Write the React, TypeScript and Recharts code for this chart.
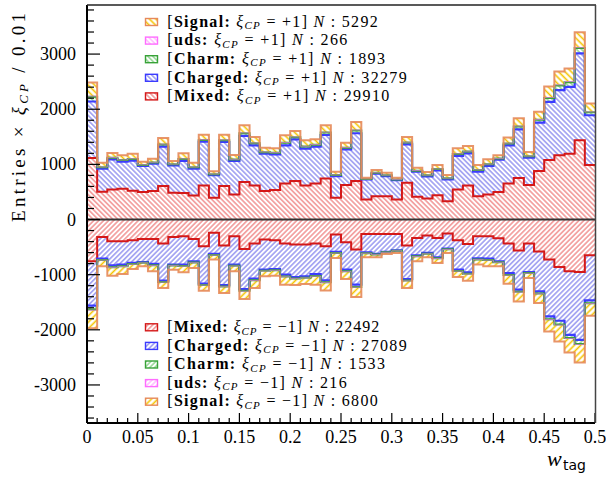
import React from "react";
import { ComposedChart, Area, XAxis, YAxis, ReferenceLine } from "recharts";

// 50 bins of width 0.01 in w_tag, values are Entries x xi_CP per bin
const binLow = Array.from({ length: 50 }, (_, i) => i / 100);

// xi_CP = +1
const mixedPos = [
  1115, 503, 545, 558, 521, 497, 515, 606, 485, 479, 436, 618, 394, 606, 455, 679, 618, 515, 533, 655,
  697, 618, 655, 745, 394, 624, 697, 364, 424, 424, 364, 667, 412, 382, 442, 333, 545, 618, 424, 455,
  497, 655, 752, 624, 879, 1079, 1164, 1194, 1436, 988,
];
const chargedPos = [
  1025, 418, 546, 490, 546, 473, 497, 715, 497, 582, 485, 794, 412, 800, 606, 836, 727, 679, 649, 690,
  758, 667, 666, 788, 393, 649, 867, 363, 406, 364, 351, 697, 455, 400, 449, 394, 607, 582, 443, 515,
  588, 690, 884, 497, 879, 1054, 1181, 1212, 1576, 903,
];
const charmPos = [
  86, 27, 29, 29, 32, 20, 23, 40, 20, 35, 27, 32, 17, 33, 27, 49, 38, 27, 27, 46,
  38, 38, 34, 44, 20, 30, 52, 8, 17, 15, 11, 33, 18, 20, 24, 20, 35, 33, 30, 30,
  20, 35, 50, 26, 49, 70, 85, 83, 96, 53,
];
const udsPos = [
  12, 4, 4, 4, 4, 3, 3, 6, 3, 5, 4, 4, 2, 5, 4, 7, 5, 4, 4, 6,
  5, 5, 5, 6, 3, 4, 7, 1, 2, 2, 2, 5, 3, 3, 3, 3, 5, 5, 4, 4,
  3, 5, 7, 4, 7, 10, 12, 12, 13, 7,
];
const signalPos = [
  247, 78, 82, 83, 91, 55, 65, 112, 56, 99, 78, 91, 48, 95, 78, 138, 109, 78, 78, 130,
  108, 108, 95, 126, 55, 87, 147, 21, 48, 43, 30, 95, 51, 56, 70, 56, 99, 95, 87, 87,
  56, 100, 143, 73, 138, 199, 243, 238, 273, 152,
];

// xi_CP = -1
const mixedNeg = [
  -758, -315, -394, -394, -376, -352, -352, -436, -315, -303, -352, -485, -242, -473, -303, -533, -436, -364, -376, -436,
  -455, -455, -436, -485, -273, -412, -545, -261, -261, -261, -261, -473, -333, -291, -333, -255, -376, -442, -303, -303,
  -339, -436, -564, -436, -582, -727, -861, -939, -952, -648,
];
const chargedNeg = [
  -802, -394, -436, -424, -412, -418, -454, -673, -503, -515, -406, -679, -382, -715, -515, -728, -637, -545, -521, -564,
  -587, -575, -552, -618, -312, -497, -637, -333, -363, -327, -297, -606, -315, -315, -352, -272, -533, -516, -400, -406,
  -419, -534, -709, -516, -721, -1031, -975, -1152, -1230, -819,
];
const charmNeg = [
  -74, -25, -34, -31, -20, -14, -24, -24, -16, -25, -22, -23, -19, -26, -22, -33, -30, -22, -22, -33,
  -26, -25, -35, -33, -21, -31, -40, -16, -11, -6, -9, -29, -20, -14, -19, -14, -24, -27, -21, -25,
  -16, -35, -38, -20, -38, -49, -68, -58, -74, -50,
];
const udsNeg = [
  -10, -3, -5, -4, -3, -2, -3, -3, -2, -4, -3, -3, -3, -4, -3, -5, -4, -3, -3, -5,
  -4, -4, -5, -5, -3, -4, -6, -2, -2, -1, -1, -4, -3, -2, -3, -2, -3, -4, -3, -3,
  -2, -5, -5, -3, -5, -7, -9, -8, -10, -7,
];
const signalNeg = [
  -326, -111, -149, -135, -86, -62, -106, -106, -73, -111, -96, -101, -81, -115, -96, -143, -135, -96, -96, -144,
  -116, -111, -154, -144, -91, -135, -178, -73, -48, -29, -38, -130, -87, -63, -81, -63, -106, -120, -91, -111,
  -72, -154, -169, -86, -169, -216, -299, -255, -328, -221,
];

const xTicks = Array.from({ length: 51 }, (_, i) => i / 100);
const yTicks = Array.from({ length: 38 }, (_, i) => -3600 + i * 200);

const legendPos = [
  { key: "signal", label: "Signal", n: 5292 },
  { key: "uds", label: "uds", n: 266 },
  { key: "charm", label: "Charm", n: 1893 },
  { key: "charged", label: "Charged", n: 32279 },
  { key: "mixed", label: "Mixed", n: 29910 },
];
const legendNeg = [
  { key: "mixed", label: "Mixed", n: 22492 },
  { key: "charged", label: "Charged", n: 27089 },
  { key: "charm", label: "Charm", n: 1533 },
  { key: "uds", label: "uds", n: 216 },
  { key: "signal", label: "Signal", n: 6800 },
];

const SERIF = "Liberation Serif, Times New Roman, serif";
const SANS = "DejaVu Sans, sans-serif";

const styles: Record<string, { line: string; hatch: string; width: number; hatchW: number; gap: number; op: number }> = {
  mixed: { line: "#d41818", hatch: "#e84a4a", width: 2, hatchW: 0.9, gap: 3.5, op: 1 },
  charged: { line: "#3b3bff", hatch: "#5252e6", width: 2.2, hatchW: 0.9, gap: 3.5, op: 1 },
  charm: { line: "#38a238", hatch: "#4cbb4c", width: 2, hatchW: 0.9, gap: 3.5, op: 1 },
  uds: { line: "#ff6cff", hatch: "#ff8cff", width: 1, hatchW: 0.9, gap: 3.5, op: 0.6 },
  signal: { line: "#e6895a", hatch: "#f5c400", width: 2, hatchW: 1.6, gap: 4.5, op: 0.9 },
};
const order = ["mixed", "charged", "charm", "uds", "signal"];

const rows = xTicks.map((x, i) => {
  const k = Math.min(i, binLow.length - 1);
  return {
    x,
    mixedP: mixedPos[k],
    chargedP: chargedPos[k],
    charmP: charmPos[k],
    udsP: udsPos[k],
    signalP: signalPos[k],
    mixedN: mixedNeg[k],
    chargedN: chargedNeg[k],
    charmN: charmNeg[k],
    udsN: udsNeg[k],
    signalN: signalNeg[k],
  };
});

function XTick(props: any) {
  const { x, y, payload } = props;
  const k = Math.round(payload.value * 100);
  const major = k % 5 === 0;
  return (
    <g>
      <line x1={x} x2={x} y1={y} y2={y - (major ? 10 : 5)} stroke="#000" strokeWidth={1.2} />
      {major && (
        <text x={x} y={y + 20} textAnchor="middle" fontFamily={SERIF} fontSize={18} fill="#000">
          {String(k / 100)}
        </text>
      )}
    </g>
  );
}

function YTick(props: any) {
  const { x, y, payload } = props;
  const v = Math.round(payload.value);
  const major = v % 1000 === 0;
  return (
    <g>
      <line x1={x} x2={x + (major ? 13 : 7)} y1={y} y2={y} stroke="#000" strokeWidth={1.2} />
      {major && (
        <text x={x - 11} y={y + 6} textAnchor="end" fontFamily={SERIF} fontSize={18} fill="#000">
          {String(v)}
        </text>
      )}
    </g>
  );
}

function LegendBlock({ items, top, sign, side }: { items: typeof legendPos; top: number; sign: string; side: string }) {
  const ends: Record<string, number> =
    side === "P"
      ? { signal: 377.7, uds: 347.3, charm: 385, charged: 406.7, mixed: 389.3 }
      : { mixed: 379.3, charged: 406.7, charm: 385, uds: 346.7, signal: 377.7 };
  return (
    <g>
      {items.map((it, i) => {
        const cy = top + i * 18.6;
        const st = styles[it.key];
        return (
          <g key={it.key}>
            <rect x={145.5} y={cy - 3.5} width={12} height={7} fill={`url(#h-${it.key}-${side})`} stroke={st.line} strokeWidth={1.4} />
            <text
              x={167.3}
              y={cy + 4.7}
              fontFamily={SERIF}
              fontSize={16}
              fill="#000"
              textLength={ends[it.key] - 167.3}
              lengthAdjust="spacing"
            >
              [<tspan fontWeight="bold">{it.label}:</tspan>
              <tspan fontStyle="italic">{" ξ"}</tspan>
              <tspan fontStyle="italic" fontSize={11} dy={2.5}>CP</tspan>
              <tspan dy={-2.5}>{` = ${sign}1] `}</tspan>
              <tspan fontStyle="italic">N</tspan>
              {` : ${it.n}`}
            </text>
          </g>
        );
      })}
    </g>
  );
}

export default function App() {
  return (
    <div style={{ position: "absolute", left: 0, top: 0, width: 606, height: 479, background: "#fff" }}>
      <svg width={0} height={0} style={{ position: "absolute" }}>
        <defs>
          {order.map((k) =>
            ["P", "N"].map((side) => {
              const st = styles[k];
              return (
                <pattern
                  key={`${k}-${side}`}
                  id={`h-${k}-${side}`}
                  width={st.gap}
                  height={st.gap}
                  patternUnits="userSpaceOnUse"
                  patternTransform={`rotate(${side === "P" ? -45 : 45})`}
                >
                  <line x1={st.gap / 2} x2={st.gap / 2} y1={0} y2={st.gap} stroke={st.hatch} strokeWidth={st.hatchW} />
                </pattern>
              );
            })
          )}
        </defs>
      </svg>
      <ComposedChart width={606} height={479} data={rows} margin={{ top: 5, right: 11, bottom: 0, left: 0 }}>
        <XAxis
          dataKey="x"
          type="number"
          domain={[0, 0.5]}
          ticks={xTicks}
          interval={0}
          tickSize={0}
          tickMargin={0}
          tickLine={false}
          tick={<XTick />}
          height={56}
          axisLine={{ stroke: "#000", strokeWidth: 2 }}
        />
        <YAxis
          type="number"
          domain={[-3690, 3890]}
          allowDataOverflow
          ticks={yTicks}
          interval={0}
          tickSize={0}
          tickMargin={0}
          tickLine={false}
          tick={<YTick />}
          width={87}
          axisLine={{ stroke: "#000", strokeWidth: 2 }}
        />
        {["P", "N"].map((side) =>
          order.map((k) => (
            <Area
              key={`f-${k}-${side}`}
              type="stepAfter"
              dataKey={`${k}${side}`}
              stackId={`fill${side}`}
              stroke="none"
              fill={`url(#h-${k}-${side})`}
              fillOpacity={1}
              dot={false}
              activeDot={false}
              isAnimationActive={false}
            />
          ))
        )}
        {["P", "N"].map((side) =>
          order.map((k) => (
            <Area
              key={`l-${k}-${side}`}
              type="stepAfter"
              dataKey={`${k}${side}`}
              stackId={`line${side}`}
              stroke={styles[k].line}
              strokeWidth={styles[k].width}
              strokeOpacity={styles[k].op}
              fill="none"
              dot={false}
              activeDot={false}
              isAnimationActive={false}
            />
          ))
        )}
        <ReferenceLine y={0} stroke="#333" strokeWidth={2} />
      </ComposedChart>
      <svg width={606} height={479} style={{ position: "absolute", left: 0, top: 0, pointerEvents: "none" }}>
        <line x1={87} x2={596} y1={5} y2={5} stroke="#222" strokeWidth={1.5} />
        <line x1={595.5} x2={595.5} y1={5} y2={423} stroke="#444" strokeWidth={1.5} />
        <LegendBlock items={legendPos} top={22} sign="+" side="P" />
        <LegendBlock items={legendNeg} top={327.3} sign={"\u2212"} side="N" />
        <text
          transform="rotate(-90)"
          x={-13}
          y={25}
          textAnchor="end"
          fontFamily={SERIF}
          fontSize={19}
          fill="#000"
          textLength={209}
          lengthAdjust="spacing"
        >
          {"Entries × "}
          <tspan fontStyle="italic">ξ</tspan>
          <tspan fontStyle="italic" fontSize={13} dy={3}>CP</tspan>
          <tspan dy={-3}>{"  /  0.01"}</tspan>
        </text>
        <text x={547} y={466} fontFamily={SERIF} fontStyle="italic" fontSize={22} fill="#000">w</text>
        <text x={563} y={470} fontFamily={SANS} fontSize={14} fill="#000">tag</text>
      </svg>
    </div>
  );
}
